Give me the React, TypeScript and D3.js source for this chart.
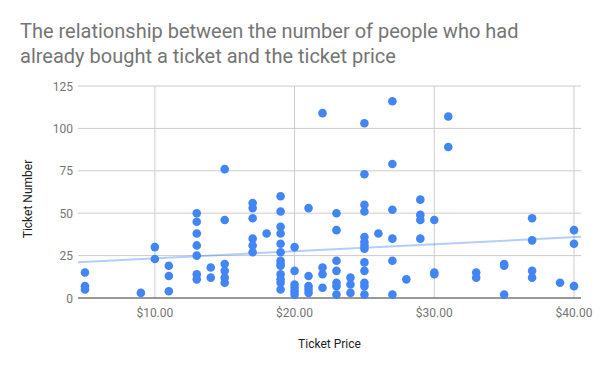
import React from "react";
import * as d3 from "d3";

const prices: number[] = [
  5, 5, 5,
  9,
  10, 10,
  11, 11, 11,
  13, 13, 13, 13, 13, 13, 13,
  14, 14,
  15, 15, 15, 15, 15, 15,
  17, 17, 17, 17, 17, 17,
  18,
  19, 19, 19, 19, 19, 19, 19, 19, 19, 19, 19, 19, 19,
  20, 20, 20, 20, 20, 20,
  21, 21, 21, 21, 21,
  22, 22, 22, 22,
  23, 23, 23, 23, 23, 23, 23,
  24, 24, 24,
  25, 25, 25, 25, 25, 25, 25, 25, 25, 25, 25, 25, 25,
  26,
  27, 27, 27, 27, 27, 27,
  28,
  29, 29, 29, 29,
  30, 30, 30,
  31, 31,
  33, 33,
  35, 35, 35,
  37, 37, 37, 37,
  39,
  40, 40, 40,
];
const tickets: number[] = [
  15, 7, 5,
  3,
  30, 23,
  19, 13, 4,
  50, 45, 38, 31, 25, 14, 11,
  18, 12,
  76, 46, 20, 16, 12, 9,
  56, 53, 47, 35, 31, 27,
  38,
  60, 51, 42, 38, 32, 27, 22, 20, 19, 14, 11, 9, 5,
  30, 16, 8, 6, 4, 2,
  53, 13, 7, 5, 3,
  109, 18, 14, 6,
  50, 40, 22, 16, 9, 7, 2,
  12, 8, 3,
  103, 73, 55, 51, 36, 33, 31, 29, 21, 16, 9, 7, 2,
  38,
  116, 79, 52, 35, 22, 2,
  11,
  58, 49, 46, 35,
  46, 15, 14,
  107, 89,
  15, 12,
  20, 19, 2,
  47, 34, 16, 12,
  9,
  40, 32, 7,
];

const xTicks = [10, 20, 30, 40];
const yTicks = [0, 25, 50, 75, 100, 125];
const titleLines = [
  "The relationship between the number of people who had",
  "already bought a ticket and the ticket price",
];
const xTitle = "Ticket Price";
const yTitle = "Ticket Number";

export default function App() {
  const W = 600, H = 371;
  const left = 78, right = 581, top = 86, bottom = 298;
  const x = d3.scaleLinear().domain([4.5, 40.5]).range([left, right]);
  const y = d3.scaleLinear().domain([0, 125]).range([bottom, top]);
  const fmt = (v: number) => "$" + d3.format(".2f")(v);

  const n = prices.length;
  const mx = d3.mean(prices)!;
  const my = d3.mean(tickets)!;
  let sxy = 0, sxx = 0;
  for (let i = 0; i < n; i++) {
    sxy += (prices[i] - mx) * (tickets[i] - my);
    sxx += (prices[i] - mx) ** 2;
  }
  const slope = sxy / sxx;
  const intercept = my - slope * mx;
  const [x0, x1] = x.domain();
  const line = d3.line<number>().x((d) => x(d)).y((d) => y(intercept + slope * d));

  const font = "Roboto, Arial, sans-serif";
  return (
    <svg width={W} height={H} style={{ position: "absolute", left: 0, top: 0, background: "#fff" }}>
      {titleLines.map((t, i) => (
        <text key={i} x={20} y={38 + i * 24.5} fontFamily={font} fontSize={20} fill="#757575">
          {t}
        </text>
      ))}
      {yTicks.filter((t) => t > 0).map((t) => (
        <line key={"gy" + t} x1={left} x2={right} y1={y(t)} y2={y(t)} stroke="#cccccc" strokeWidth={1} />
      ))}
      {xTicks.map((t) => (
        <line key={"gx" + t} x1={x(t)} x2={x(t)} y1={top} y2={bottom} stroke="#cccccc" strokeWidth={1} />
      ))}
      <line x1={left} x2={right} y1={y(0)} y2={y(0)} stroke="#333333" strokeWidth={1} />
      {yTicks.map((t) => (
        <text key={"ty" + t} x={73} y={y(t) + 4.5} textAnchor="end" fontFamily={font} fontSize={12} fill="#757575">
          {t}
        </text>
      ))}
      {xTicks.map((t) => (
        <text key={"tx" + t} x={x(t)} y={317} textAnchor="middle" fontFamily={font} fontSize={12} fill="#757575">
          {fmt(t)}
        </text>
      ))}
      <path d={line([x0, x1]) || ""} stroke="#4285f4" strokeOpacity={0.4} strokeWidth={2} fill="none" />
      {prices.map((p, i) => (
        <circle key={i} cx={x(p)} cy={y(tickets[i])} r={4.3} fill="#4285f4" />
      ))}
      <text x={329.5} y={348} textAnchor="middle" fontFamily={font} fontSize={12} fill="#222222">
        {xTitle}
      </text>
      <text
        transform={`translate(31.5,199) rotate(-90)`}
        textAnchor="middle"
        fontFamily={font}
        fontSize={12}
        fill="#222222"
      >
        {yTitle}
      </text>
    </svg>
  );
}
